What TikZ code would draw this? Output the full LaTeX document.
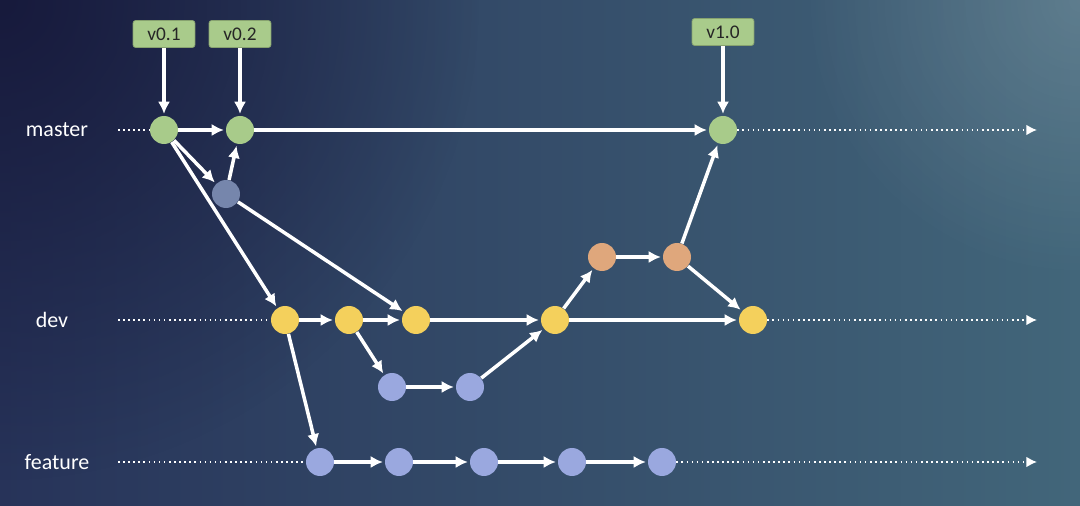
\documentclass[tikz,border=0pt]{standalone}
\usepackage{fontspec}
\setmainfont{Carlito}
\usepackage{tikz}
\usepackage{xcolor}
\usetikzlibrary{calc,arrows.meta,fadings}
\tikzset{>={Latex[length=7pt,width=7pt]}}

\definecolor{bgleft}{HTML}{273359}
\definecolor{bgmid}{HTML}{35496B}
\definecolor{bgright}{HTML}{42667A}
\definecolor{bgcorner}{HTML}{171A3C}
\definecolor{commitgreen}{HTML}{A8CB8A}
\definecolor{commityellow}{HTML}{F4D05C}
\definecolor{commitorange}{HTML}{DFA77C}
\definecolor{commitblue}{HTML}{9AA8DF}
\definecolor{commitgray}{HTML}{7686AC}
\definecolor{taggreen}{HTML}{A9CB8B}

\tikzfading[name=cornerfade, inner color=transparent!0, outer color=transparent!100]

\tikzset{
  commit/.style={circle, minimum size=0.56cm, inner sep=0pt},
  tagbox/.style={rectangle, rounded corners=1.5pt, fill=taggreen, draw=taggreen!80!black,
    minimum width=1.24cm, minimum height=0.54cm, font=\fontsize{11}{12}\selectfont, text=black!85},
  branch/.style={text=white, font=\fontsize{12.5}{14}\selectfont},
  link/.style={->, white, line width=2pt, shorten >=1pt, shorten <=0pt},
  track/.style={white, line width=0.9pt, dotted},
}

\begin{document}
\begin{tikzpicture}[x=0.02cm, y=-0.02cm]
    % background
    \useasboundingbox (0, 0) rectangle (1080, 506);
    \begin{scope}
      \clip (0, 0) rectangle (1080, 506);
      \shade[left color=bgleft, middle color=bgmid, right color=bgright] (0, 0) rectangle (1080, 506);
      \fill[bgcorner, path fading=cornerfade, fit fading=true] (0, 0) circle (480);
      \fill[white, opacity=0.15, path fading=cornerfade, fit fading=true] (1080, 0) circle (280);
    \end{scope}

    % branch labels
    \node[branch] (lmaster) at (57, 130) {master};
    \node[branch] (ldev) at (52, 320) {dev};
    \node[branch] (lfeature) at (57, 462) {feature};
    \coordinate (smaster) at (118, 130);
    \coordinate (sdev) at (118, 320);
    \coordinate (sfeature) at (118, 462);
    \coordinate (emaster) at (1037, 130);
    \coordinate (edev) at (1037, 320);
    \coordinate (efeature) at (1037, 462);

    % commits
    \node[commit, fill=commitgreen] (m1) at (164, 130) {};
    \node[commit, fill=commitgreen] (m2) at (240, 130) {};
    \node[commit, fill=commitgreen] (m3) at (723, 130) {};
    \node[commit, fill=commitgray] (h1) at (226, 194) {};
    \node[commit, fill=commityellow] (d1) at (285, 320) {};
    \node[commit, fill=commityellow] (d2) at (349, 320) {};
    \node[commit, fill=commityellow] (d3) at (416, 320) {};
    \node[commit, fill=commityellow] (d4) at (555, 320) {};
    \node[commit, fill=commityellow] (d5) at (753, 320) {};
    \node[commit, fill=commitblue] (b1) at (392, 387) {};
    \node[commit, fill=commitblue] (b2) at (470, 387) {};
    \node[commit, fill=commitorange] (o1) at (602, 257) {};
    \node[commit, fill=commitorange] (o2) at (677, 257) {};
    \node[commit, fill=commitblue] (f1) at (320, 462) {};
    \node[commit, fill=commitblue] (f2) at (399, 462) {};
    \node[commit, fill=commitblue] (f3) at (484, 462) {};
    \node[commit, fill=commitblue] (f4) at (572, 462) {};
    \node[commit, fill=commitblue] (f5) at (662, 462) {};

    % tags
    \node[tagbox] (t1) at (164, 34) {v0.1};
    \node[tagbox] (t2) at (240, 34) {v0.2};
    \node[tagbox] (t3) at (723, 32) {v1.0};

    % dotted tracks
    \draw[track] (smaster) -- (m1);
    \draw[track] (sdev) -- (d1);
    \draw[track] (sfeature) -- (f1);
    \draw[track, -{Latex[length=6pt,width=6pt]}] (m3) -- (emaster);
    \draw[track, -{Latex[length=6pt,width=6pt]}] (d5) -- (edev);
    \draw[track, -{Latex[length=6pt,width=6pt]}] (f5) -- (efeature);

    % history
    \draw[link] (t1) -- (m1);
    \draw[link] (t2) -- (m2);
    \draw[link] (t3) -- (m3);
    \draw[link] (m1) -- (m2);
    \draw[link] (m2) -- (m3);
    \draw[link] (m1) -- (h1);
    \draw[link] (h1) -- (m2);
    \draw[link] (m1) -- (d1);
    \draw[link] (h1) -- (d3);
    \draw[link] (d1) -- (d2);
    \draw[link] (d2) -- (d3);
    \draw[link] (d3) -- (d4);
    \draw[link] (d2) -- (b1);
    \draw[link] (b1) -- (b2);
    \draw[link] (b2) -- (d4);
    \draw[link] (d4) -- (o1);
    \draw[link] (o1) -- (o2);
    \draw[link] (o2) -- (m3);
    \draw[link] (o2) -- (d5);
    \draw[link] (d4) -- (d5);
    \draw[link] (d1) -- (f1);
    \draw[link] (f1) -- (f2);
    \draw[link] (f2) -- (f3);
    \draw[link] (f3) -- (f4);
    \draw[link] (f4) -- (f5);
  \end{tikzpicture}
\end{document}
